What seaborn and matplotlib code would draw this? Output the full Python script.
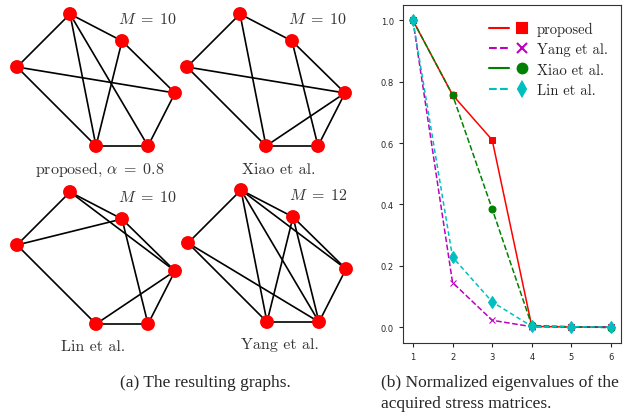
import matplotlib
matplotlib.use("Agg")
import matplotlib.pyplot as plt
from matplotlib.lines import Line2D
from matplotlib.legend_handler import HandlerTuple
import seaborn as sns

# --- data -------------------------------------------------------------
# node layout (pixel-like units, y grows downwards) shared by all graphs
nodes = ["A", "B", "C", "D", "E", "F"]
node_x = [70, 122, 17, 175, 96, 148]
node_y = [15, 42, 68, 94, 147, 147]

edges_proposed = ["AC", "AB", "AE", "AF", "BE", "BD", "CD", "CE", "DF", "EF"]
edges_xiao = ["AC", "AB", "AE", "BF", "BD", "CD", "CE", "DE", "DF", "EF"]
edges_lin = ["AC", "AB", "AD", "BC", "CE", "BD", "BF", "DE", "DF", "EF"]
edges_yang = ["AC", "AE", "AF", "AB", "AD", "BE", "BF", "BD", "CE", "CF", "DF", "EF"]

graph_titles = [r"proposed, $\alpha\;=\;0.8$", "Xiao et al.", "Lin et al.", "Yang et al."]
graph_M = [r"$M\;=\;10$", r"$M\;=\;10$", r"$M\;=\;10$", r"$M\;=\;12$"]

# normalized eigenvalues
eig_index = [1, 2, 3, 4, 5, 6]
eig_proposed = [1.0, 0.757, 0.61, 0.002, 0.0, 0.0]
eig_yang = [1.0, 0.145, 0.022, 0.001, 0.0, 0.0]
eig_xiao = [1.0, 0.757, 0.385, 0.005, 0.001, -0.002]
eig_lin = [1.0, 0.228, 0.082, 0.002, 0.001, 0.0]

# --- figure -----------------------------------------------------------
sns.set_style("ticks")
plt.rcParams["mathtext.fontset"] = "cm"

fig = plt.figure(figsize=(6.36, 4.14), dpi=100)

# left panel: the four graphs, drawn in pixel coordinates
axg = fig.add_axes([0, 0, 380 / 636, 1])
axg.set_xlim(0, 380)
axg.set_ylim(414, 0)
axg.axis("off")

panels = [
    (edges_proposed, 0, 0, 100, 170),
    (edges_xiao, 170, 0, 279, 170),
    (edges_lin, 0, 178, 93, 347),
    (edges_yang, 171, 176, 280, 345),
]
for k, (edges, dx, dy, tx, ty) in enumerate(panels):
    px = [x + dx for x in node_x]
    py = [y + dy for y in node_y]
    for e in edges:
        i, j = nodes.index(e[0]), nodes.index(e[1])
        axg.plot([px[i], px[j]], [py[i], py[j]], color="black", lw=1.2, zorder=1)
    sns.scatterplot(x=px, y=py, ax=axg, color="red", s=100, edgecolor="none",
                    zorder=3, legend=False)
    axg.text(147 + dx, 20 + dy, graph_M[k], fontsize=11.5, ha="center", va="center",
             color="#333333")
    axg.text(tx, ty, graph_titles[k], fontsize=11.5, ha="center", va="center",
             family="cmr10", color="#333333")

# right panel: eigenvalue curves
ax = fig.add_axes([403 / 636, 70 / 414, 218 / 636, 338 / 414])
sns.lineplot(x=eig_index, y=eig_proposed, ax=ax, color="red", lw=1.1,
             marker="s", markersize=5, markeredgecolor="red")
sns.lineplot(x=eig_index, y=eig_yang, ax=ax, color="m", lw=1.1, linestyle="--",
             marker="x", markersize=5, markeredgecolor="m")
sns.lineplot(x=eig_index, y=eig_xiao, ax=ax, color="green", lw=1.1, linestyle="--",
             marker="o", markersize=5, markeredgecolor="green")
sns.lineplot(x=eig_index, y=eig_lin, ax=ax, color="c", lw=1.1, linestyle=(0, (3, 2)),
             marker="d", markersize=6, markeredgecolor="c")

ax.set_xticks(eig_index)
ax.set_yticks([0.0, 0.2, 0.4, 0.6, 0.8, 1.0])
ax.tick_params(labelsize=6, length=3, width=0.8)
for s in ax.spines.values():
    s.set_linewidth(0.8)
    s.set_color("#333333")

leg_specs = [("red", "-", "s", "proposed"), ("m", "--", "x", "Yang et al."),
             ("green", "-", "o", "Xiao et al."), ("c", "--", "d", "Lin et al.")]
handles, labels = [], []
for c, ls, m, lab in leg_specs:
    ln = Line2D([], [], color=c, linestyle=ls, lw=1.5)
    mk = Line2D([], [], color=c, linestyle="none", marker=m, markersize=7,
                markeredgewidth=1.5)
    handles.append((ln, mk))
    labels.append(lab)
ax.legend(handles, labels, handler_map={tuple: HandlerTuple(ndivide=None, pad=0.2)},
          loc="upper right", frameon=False, prop={"family": "cmr10", "size": 10.5},
          handlelength=3.0, handletextpad=0.3, labelspacing=0.45,
          bbox_to_anchor=(1.0, 0.99))

# captions
fig.text(205 / 636, 1 - 383 / 414, "(a) The resulting graphs.", ha="center",
         va="center", family="Liberation Serif", fontsize=12.5)
fig.text(381 / 636, 1 - 383 / 414, "(b) Normalized eigenvalues of the", ha="left",
         va="center", family="Liberation Serif", fontsize=12.5)
fig.text(381 / 636, 1 - 404 / 414, "acquired stress matrices.", ha="left",
         va="center", family="Liberation Serif", fontsize=12.5)

fig.savefig("out.png", dpi=100)
